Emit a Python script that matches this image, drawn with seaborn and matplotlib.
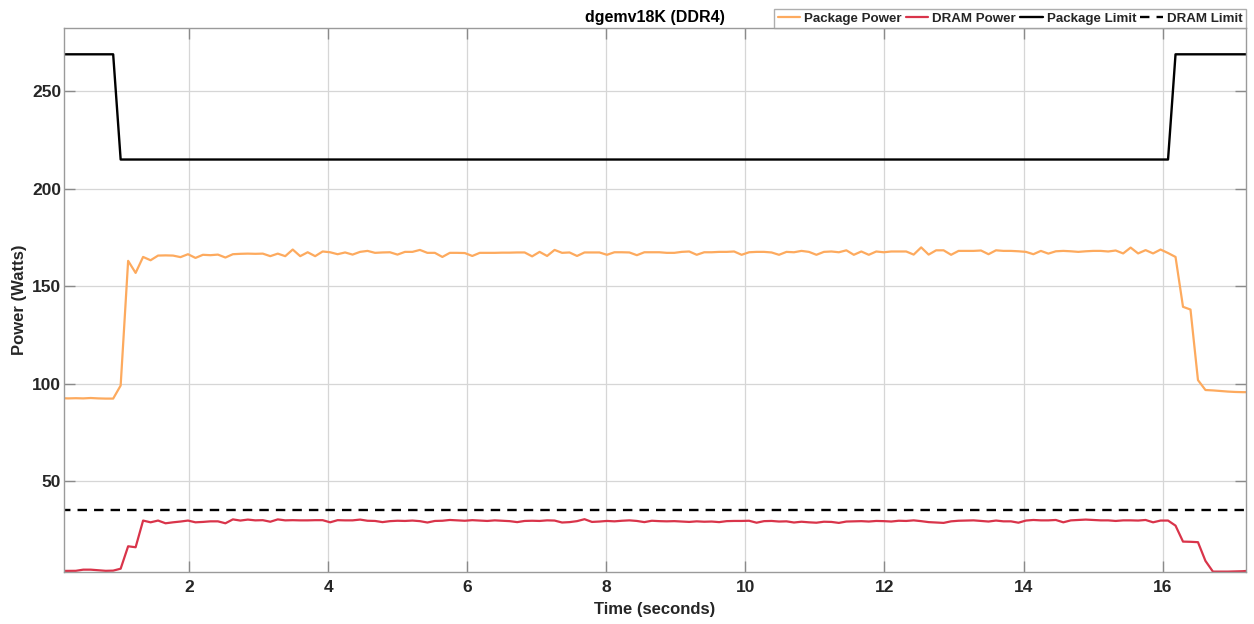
import numpy as np
import pandas as pd
import matplotlib
matplotlib.use("Agg")
import matplotlib.pyplot as plt
import seaborn as sns

# ---------------- data ----------------
pkg_power = [
    92.5, 92.4, 92.5, 92.4, 92.6, 92.4, 92.3, 92.3,
    99.0,
    163.0, 156.8, 165.0, 163.3, 165.7, 165.8, 165.7, 164.9, 166.4, 164.5,
    166.1, 165.9, 166.2, 164.7, 166.4, 166.6, 166.7, 166.6, 166.7, 165.4,
    166.7, 165.4, 168.8, 165.4, 167.4, 165.4, 167.8, 167.4,
    166.4, 167.3, 166.2, 167.6, 168.1, 167.1, 167.3, 167.4, 166.2, 167.6,
    167.6, 168.6, 167.1, 167.1, 165.0, 167.1, 167.1, 167.0, 165.5, 167.1,
    167.1, 167.1, 167.2, 167.2, 167.3, 167.3, 165.3, 167.6, 165.5, 168.6,
    167.1, 167.3, 165.5, 167.3, 167.3, 167.3, 166.1, 167.4, 167.4, 167.3,
    165.9, 167.4, 167.4, 167.4, 167.1, 167.1, 167.6, 167.8, 166.1, 167.4,
    167.4, 167.6, 167.6, 167.8,
    166.1, 167.4, 167.6, 167.6, 167.3, 166.1, 167.6, 167.4, 168.1, 167.6,
    166.1, 167.6, 167.8, 167.4, 168.4, 166.1, 167.8, 166.1, 167.8, 167.4,
    167.8, 167.8, 167.8, 166.2, 169.9, 166.2, 168.4, 168.4, 166.1, 168.1,
    168.1, 168.1, 168.3, 166.4, 168.4, 168.1, 168.1, 167.9, 167.6, 166.4,
    168.1, 166.7, 167.9, 168.1, 167.9, 167.6, 167.9, 168.1, 168.1, 167.8,
    168.3,
    166.8, 169.8, 166.8, 168.5, 166.8, 168.8, 167.0, 165.0,
    139.4, 138.0, 101.8, 96.7, 96.5, 96.2, 95.9, 95.7, 95.6, 95.6,
]

dram_power = [
    3.85, 3.85, 3.9, 4.5, 4.5, 4.2, 3.9, 4.0, 5.0, 16.5, 16.0,
    29.7, 28.8, 29.7, 28.3, 28.8, 29.2, 29.7, 28.8, 29.0, 29.3,
    29.3, 28.3, 30.3, 29.7, 30.2, 29.8, 29.9, 29.1, 30.3, 29.8,
    29.9, 29.8, 29.8, 29.9, 29.9, 28.8, 29.9, 29.8, 29.8, 30.2,
    29.6, 29.5, 28.9, 29.4, 29.6, 29.5, 29.7, 29.4, 28.7, 29.5,
    29.6, 30.0, 29.8, 29.6, 29.9, 29.7, 29.5, 29.8, 29.6, 29.4,
    28.9, 29.5, 29.6, 29.5, 29.8, 29.7, 28.7, 28.9, 29.4, 30.4,
    29.0, 29.2, 29.5, 29.3, 29.6, 29.8, 29.5, 28.9, 29.6, 29.4,
    29.3, 29.4, 29.2, 29.0, 29.3, 29.1, 29.2, 28.9, 29.4, 29.5,
    29.5, 29.6, 28.6, 29.4, 29.5, 29.2, 29.3, 28.7, 29.1, 28.8,
    28.6, 29.1, 29.0, 28.5, 29.2, 29.3, 29.4, 29.2, 29.5, 29.4,
    29.2, 29.6, 29.5, 29.8, 29.4, 28.9, 28.7, 28.5, 29.3, 29.6,
    29.7, 29.8, 29.5, 29.2,
    29.7, 29.3, 29.3, 28.6, 29.7, 30.0, 29.8, 29.8, 30.0, 28.8,
    29.8, 30.0, 30.2, 30.0, 29.8, 29.8, 29.5, 29.8, 29.8, 29.7,
    30.0, 28.8, 29.7, 29.7,
    27.1, 18.9, 18.8, 18.6, 9.0, 3.5, 3.5, 3.5, 3.6, 3.7, 4.0,
]

pkg_limit = [269.0] * 8 + [215.0] * 141 + [269.0] * 11
dram_limit = [35.2] * 160

t_start = 0.154      # first sample time (s)
t_step = 0.1076      # sampling period (s)

x_ticks = [2, 4, 6, 8, 10, 12, 14, 16]
y_ticks = [50, 100, 150, 200, 250]

series = [
    ("Package Power", pkg_power, "#FDAA5E", "-", 1.6),
    ("DRAM Power", dram_power, "#D9344A", "-", 1.6),
    ("Package Limit", pkg_limit, "#000000", "-", 1.7),
    ("DRAM Limit", dram_limit, "#000000", (0, (4, 3)), 1.7),
]

# ---------------- plot ----------------
sns.set_style("white")
plt.rcParams["font.family"] = ["Liberation Sans", "DejaVu Sans"]

fig = plt.figure(figsize=(12.54, 6.24), dpi=100)
ax = fig.add_axes([64 / 1254, 1 - 572 / 624, (1246 - 64) / 1254, (572 - 28) / 624])

for name, vals, color, ls, lw in series:
    df = pd.DataFrame({"t": t_start + t_step * np.arange(len(vals)), "v": vals})
    sns.lineplot(data=df, x="t", y="v", ax=ax, color=color, linestyle=ls,
                 linewidth=lw, label=name, estimator=None)

ax.set_xlim(0.2, 17.2)
ax.set_ylim(3.3, 282.5)
ax.set_xticks(x_ticks)
ax.set_yticks(y_ticks)
ax.grid(True, color="#d6d6d6", linewidth=0.9)
ax.set_axisbelow(True)

for sp in ax.spines.values():
    sp.set_color("#9a9a9a")
    sp.set_linewidth(1.0)
    sp.set_visible(True)

ax.tick_params(direction="in", length=8, width=1.0, color="#8a8a8a",
               top=True, right=True, bottom=True, left=True,
               labelsize=12.5, labelcolor="#262626")
ax.tick_params(axis="x", pad=6)
ax.tick_params(axis="y", pad=2)
for lab in ax.get_xticklabels() + ax.get_yticklabels():
    lab.set_fontweight("bold")

ax.set_xlabel("Time (seconds)", fontsize=12, fontweight="bold", color="#262626", labelpad=5)
ax.set_ylabel("Power (Watts)", fontsize=12, fontweight="bold", color="#262626", labelpad=4)
ax.set_title("dgemv18K (DDR4)", fontsize=11.5, fontweight="bold", color="#000000", pad=4)

leg = ax.legend(loc="lower right", bbox_to_anchor=(1.0, 1.0), ncol=4,
                frameon=True, fancybox=False, borderaxespad=0.0,
                prop={"weight": "bold", "size": 9.6},
                handlelength=1.7, handletextpad=0.3, columnspacing=0.3,
                borderpad=0.25, edgecolor="#9a9a9a")
leg.get_frame().set_linewidth(1.0)

fig.savefig("out.png", dpi=100)
